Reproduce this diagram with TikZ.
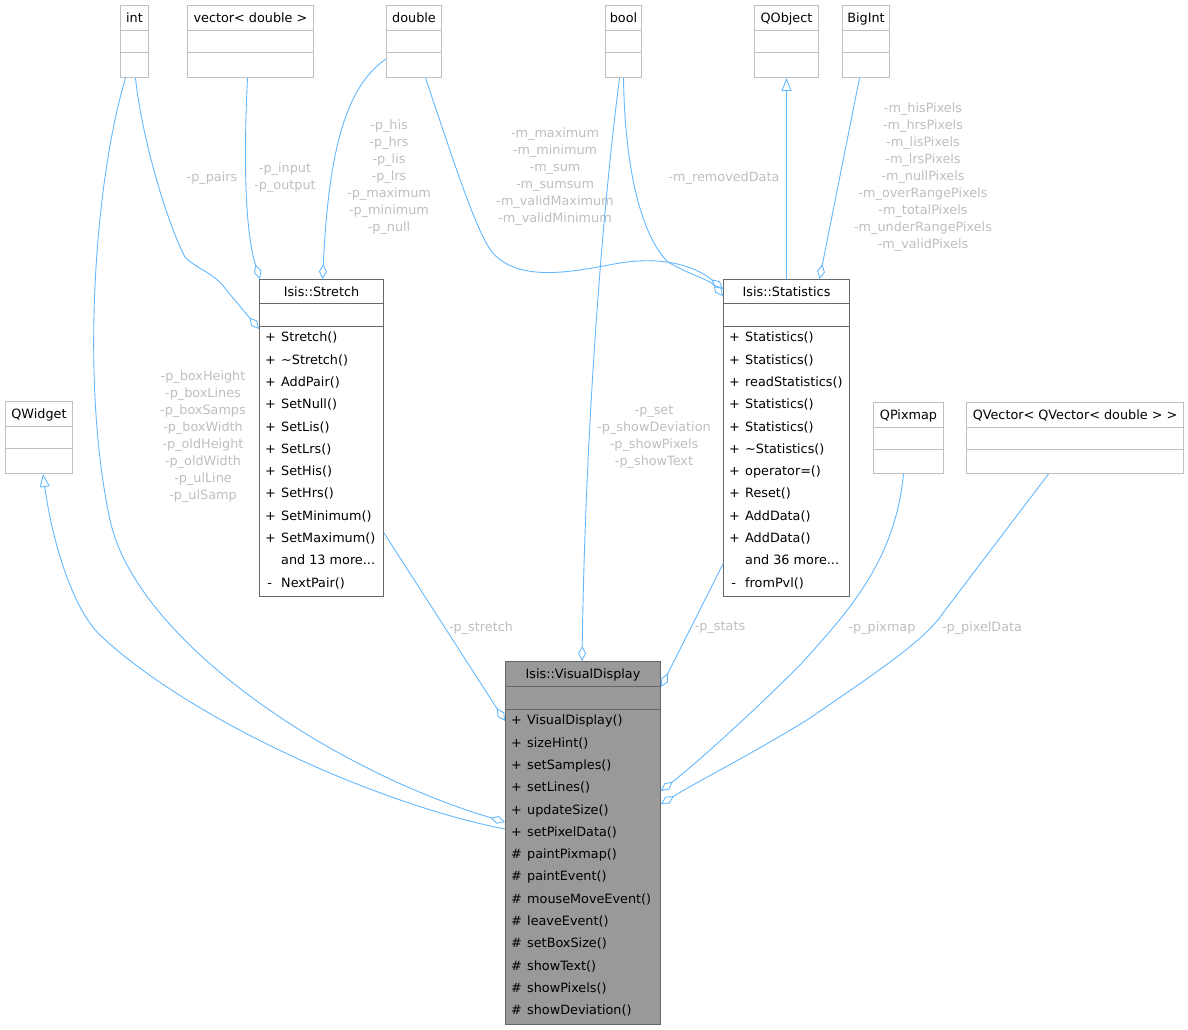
\documentclass[tikz,border=0pt]{standalone}
\usepackage{fontspec}
\setmainfont{DejaVu Sans}
\usetikzlibrary{arrows.meta,calc}
\definecolor{rel}{HTML}{63B8FF}
\definecolor{extline}{HTML}{BFBFBF}
\definecolor{docline}{HTML}{666666}
\definecolor{curfill}{HTML}{999999}
\definecolor{lblgray}{HTML}{BEBEBE}
\newcommand{\memb}[2]{\strut\makebox[16pt][l]{#1}#2}

\begin{document}
\begin{tikzpicture}[
  x=1pt, y=-1pt,
  ext/.style={draw=extline,fill=white,line width=1pt,inner sep=0pt,anchor=north west},
  doc/.style={draw=docline,fill=white,line width=1pt,inner sep=0pt,anchor=north west},
  hdr/.style={font=\fontsize{12.8}{15}\selectfont,inner sep=0pt,text height=10pt,text depth=0pt},
  mems/.style={anchor=north west,align=left,inner xsep=6pt,inner ysep=0pt,font=\fontsize{12.8}{22.3}\selectfont},
  lbl/.style={text=lblgray,align=center,inner sep=0pt,font=\fontsize{12.8}{17}\selectfont},
  agg/.style={draw=rel,line width=0.9pt,-{Diamond[open,length=15pt,width=8pt]}},
  inh/.style={draw=rel,line width=0.9pt,{Triangle[open,length=13pt,width=10pt]}-},
]
  \useasboundingbox (0,0) rectangle (1188,1030);

  % Top row: external types
  \node[ext,minimum width=28,minimum height=72] (tint) at (120,5) {};
  \node[hdr] at ($(tint.north)+(0,12.5)$) {int};
  \draw[extline] ($(tint.north west)+(0,25)$) -- ++(28,0) ($(tint.north west)+(0,47)$) -- ++(28,0);

  \node[ext,minimum width=126,minimum height=72] (tvec) at (187,5) {};
  \node[hdr] at ($(tvec.north)+(0,12.5)$) {vector< double >};
  \draw[extline] ($(tvec.north west)+(0,25)$) -- ++(126,0) ($(tvec.north west)+(0,47)$) -- ++(126,0);

  \node[ext,minimum width=55,minimum height=72] (tdbl) at (386,5) {};
  \node[hdr] at ($(tdbl.north)+(0,12.5)$) {double};
  \draw[extline] ($(tdbl.north west)+(0,25)$) -- ++(55,0) ($(tdbl.north west)+(0,47)$) -- ++(55,0);

  \node[ext,minimum width=36,minimum height=72] (tbool) at (605,5) {};
  \node[hdr] at ($(tbool.north)+(0,12.5)$) {bool};
  \draw[extline] ($(tbool.north west)+(0,25)$) -- ++(36,0) ($(tbool.north west)+(0,47)$) -- ++(36,0);

  \node[ext,minimum width=64,minimum height=72] (qobj) at (754,5) {};
  \node[hdr] at ($(qobj.north)+(0,12.5)$) {QObject};
  \draw[extline] ($(qobj.north west)+(0,25)$) -- ++(64,0) ($(qobj.north west)+(0,47)$) -- ++(64,0);

  \node[ext,minimum width=47,minimum height=72] (bigint) at (842,5) {};
  \node[hdr] at ($(bigint.north)+(0,12.5)$) {BigInt};
  \draw[extline] ($(bigint.north west)+(0,25)$) -- ++(47,0) ($(bigint.north west)+(0,47)$) -- ++(47,0);

  % Middle row: QWidget, QPixmap, QVector
  \node[ext,minimum width=67,minimum height=72] (qwidget) at (5,401) {};
  \node[hdr] at ($(qwidget.north)+(0,12.5)$) {QWidget};
  \draw[extline] ($(qwidget.north west)+(0,25)$) -- ++(67,0) ($(qwidget.north west)+(0,47)$) -- ++(67,0);

  \node[ext,minimum width=70,minimum height=71] (qpix) at (873,402) {};
  \node[hdr] at ($(qpix.north)+(0,12.5)$) {QPixmap};
  \draw[extline] ($(qpix.north west)+(0,25)$) -- ++(70,0) ($(qpix.north west)+(0,47)$) -- ++(70,0);

  \node[ext,minimum width=217,minimum height=71] (qvec) at (966,402) {};
  \node[hdr] at ($(qvec.north)+(0,12.5)$) {QVector< QVector< double > >};
  \draw[extline] ($(qvec.north west)+(0,25)$) -- ++(217,0) ($(qvec.north west)+(0,47)$) -- ++(217,0);

  % Isis::Stretch
  \node[doc,minimum width=124,minimum height=317] (stretch) at (259,279) {};
  \node[hdr] at ($(stretch.north)+(0,12)$) {Isis::Stretch};
  \draw[docline] ($(stretch.north west)+(0,24)$) -- ++(124,0) ($(stretch.north west)+(0,47)$) -- ++(124,0);
  \node[mems] at ($(stretch.north west)+(0,47)$) {\memb{+}{Stretch()}\\ \memb{+}{\textasciitilde Stretch()}\\
    \memb{+}{AddPair()}\\ \memb{+}{SetNull()}\\ \memb{+}{SetLis()}\\ \memb{+}{SetLrs()}\\
    \memb{+}{SetHis()}\\ \memb{+}{SetHrs()}\\ \memb{+}{SetMinimum()}\\ \memb{+}{SetMaximum()}\\
    \memb{}{and 13 more...}\\ \memb{\,-}{NextPair()}};

  % Isis::Statistics
  \node[doc,minimum width=126,minimum height=317] (stats) at (723,279) {};
  \node[hdr] at ($(stats.north)+(0,12)$) {Isis::Statistics};
  \draw[docline] ($(stats.north west)+(0,24)$) -- ++(126,0) ($(stats.north west)+(0,47)$) -- ++(126,0);
  \node[mems] at ($(stats.north west)+(0,47)$) {\memb{+}{Statistics()}\\ \memb{+}{Statistics()}\\
    \memb{+}{readStatistics()}\\ \memb{+}{Statistics()}\\ \memb{+}{Statistics()}\\
    \memb{+}{\textasciitilde Statistics()}\\ \memb{+}{operator=()}\\ \memb{+}{Reset()}\\
    \memb{+}{AddData()}\\ \memb{+}{AddData()}\\ \memb{}{and 36 more...}\\ \memb{\,-}{fromPvl()}};

  % Isis::VisualDisplay (this class)
  \node[doc,fill=curfill,minimum width=155,minimum height=363] (vdisp) at (505,661) {};
  \node[hdr] at ($(vdisp.north)+(0,12.5)$) {Isis::VisualDisplay};
  \draw[docline] ($(vdisp.north west)+(0,25)$) -- ++(155,0) ($(vdisp.north west)+(0,48)$) -- ++(155,0);
  \node[mems] at ($(vdisp.north west)+(0,48)$) {\memb{+}{VisualDisplay()}\\ \memb{+}{sizeHint()}\\
    \memb{+}{setSamples()}\\ \memb{+}{setLines()}\\ \memb{+}{updateSize()}\\ \memb{+}{setPixelData()}\\
    \memb{\#}{paintPixmap()}\\ \memb{\#}{paintEvent()}\\ \memb{\#}{mouseMoveEvent()}\\
    \memb{\#}{leaveEvent()}\\ \memb{\#}{setBoxSize()}\\ \memb{\#}{showText()}\\
    \memb{\#}{showPixels()}\\ \memb{\#}{showDeviation()}};

  % Members of Isis::Stretch
  \draw[agg] ($(tint.south)+(1,0)$) .. controls (142,140) and (168,225) .. (185,257)
    .. controls (200,272) and (212,270) .. (228,292) -- ($(stretch.north west)+(0,50)$);
  \draw[agg] ($(tvec.south)+(-3,0)$) .. controls (243,170) and (246,235) .. ($(stretch.north west)+(1,0)$);
  \draw[agg] ($(tdbl.north west)+(0,54)$) .. controls (340,90) and (328,170) .. ($(stretch.north)+(1,0)$);
  \node[lbl] (lpairs) at (212,178) {-p\_pairs};
  \node[lbl] (linput) at (285,178) {-p\_input\\-p\_output};
  \node[lbl] (lhis) at (389,177) {-p\_his\\-p\_hrs\\-p\_lis\\-p\_lrs\\-p\_maximum\\-p\_minimum\\-p\_null};

  % Members of Isis::Statistics
  \draw[agg] ($(tdbl.south)+(11.5,0)$) .. controls (450,150) and (475,230) .. (492,252)
    .. controls (520,285) and (580,270) .. (620,263)
    .. controls (670,255) and (700,270) .. ($(stats.north west)+(0,10)$);
  \draw[agg] (tbool.south) .. controls (625,180) and (645,240) .. (668,262)
    .. controls (690,275) and (710,280) .. ($(stats.north west)+(0,17)$);
  \draw[inh] (qobj.south) -- (stats.north);
  \draw[agg] ($(bigint.south)+(-6.5,0)$) -- ($(stats.north)+(33,0)$);
  \node[lbl] (lmax) at (555,177) {-m\_maximum\\-m\_minimum\\-m\_sum\\-m\_sumsum\\-m\_validMaximum\\-m\_validMinimum};
  \node[lbl] (lremoved) at (724,178) {-m\_removedData};
  \node[lbl] (lpixels) at (923,177) {-m\_hisPixels\\-m\_hrsPixels\\-m\_lisPixels\\-m\_lrsPixels\\-m\_nullPixels\\-m\_overRangePixels\\-m\_totalPixels\\-m\_underRangePixels\\-m\_validPixels};

  % Members and base of Isis::VisualDisplay
  \draw[inh] ($(qwidget.south)+(4,0)$) .. controls (52,540) and (72,608) .. (100,635)
    .. controls (190,720) and (380,805) .. ($(vdisp.north west)+(0,168)$);
  \draw[agg] ($(tint.south)+(-9,0)$) .. controls (95,180) and (80,380) .. (110,520)
    .. controls (136,640) and (330,770) .. ($(vdisp.north west)+(0,161)$);
  \draw[agg] ($(tbool.south)+(-4,0)$) .. controls (600,230) and (585,450) .. ($(vdisp.north)+(-1,0)$);
  \draw[agg] ($(stretch.north east)+(0,254)$) -- ($(vdisp.north west)+(0,60)$);
  \draw[agg] ($(stats.north west)+(0,285)$) -- ($(vdisp.north east)+(0,26)$);
  \draw[agg] ($(qpix.south)+(-5,0)$) .. controls (895,560) and (850,610) .. (800,665)
    .. controls (750,715) and (700,760) .. ($(vdisp.north east)+(0,130)$);
  \draw[agg] ($(qvec.south)+(-26.5,0)$) -- (943,613) .. controls (925,640) and (880,670) .. (807,720)
    .. controls (750,755) and (700,780) .. ($(vdisp.north east)+(0,143)$);
  \node[lbl] (lbox) at (203,437) {-p\_boxHeight\\-p\_boxLines\\-p\_boxSamps\\-p\_boxWidth\\-p\_oldHeight\\-p\_oldWidth\\-p\_ulLine\\-p\_ulSamp};
  \node[lbl] (lset) at (654,437) {-p\_set\\-p\_showDeviation\\-p\_showPixels\\-p\_showText};
  \node[lbl] (lstretch) at (481,628) {-p\_stretch};
  \node[lbl] (lstats) at (720,628) {-p\_stats};
  \node[lbl] (lpixmap) at (882,628) {-p\_pixmap};
  \node[lbl] (lpixdata) at (982,628) {-p\_pixelData};
\end{tikzpicture}
\end{document}
